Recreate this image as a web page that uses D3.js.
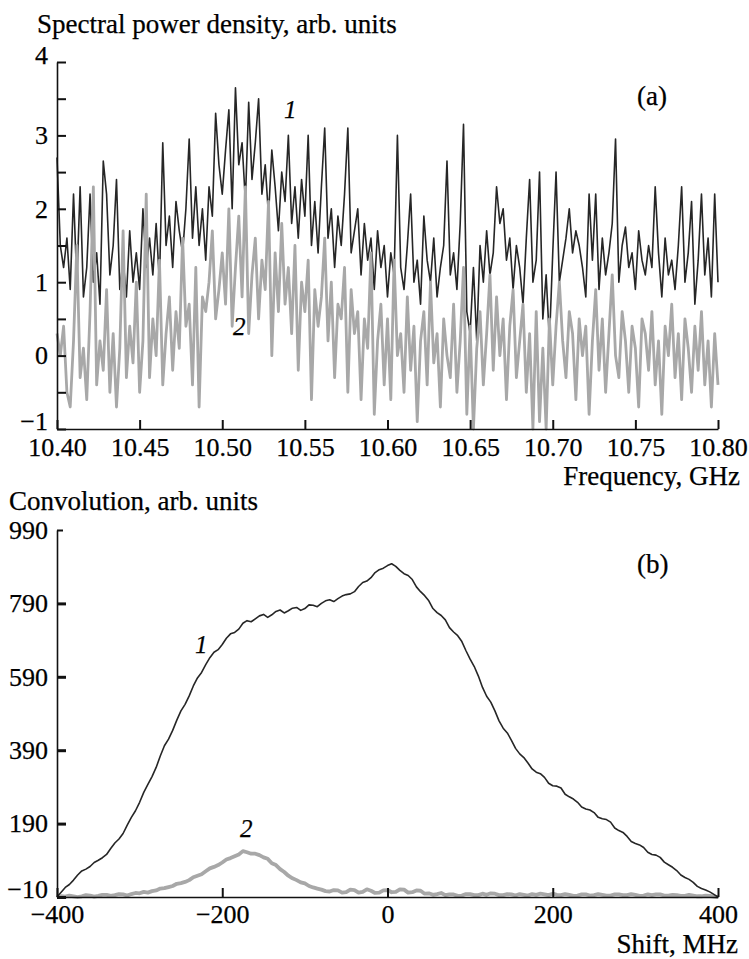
<!DOCTYPE html>
<html>
<head>
<meta charset="utf-8">
<script src="https://cdn.jsdelivr.net/npm/d3@7"></script>
<style>
body { margin: 0; background: #fff; }
text { font-family: "Liberation Serif", "Times New Roman", serif; fill: #000; stroke: #000; stroke-width: 0.25px; }
</style>
</head>
<body>
<div class="container"></div>
<script>
const WIDTH = 749;
const HEIGHT = 959;

// (a) spectra, one value every 2 MHz from 10.400 GHz
const FREQ_START = 10.40;
const FREQ_STEP = 0.002;
var spectrum1 = [
    2.7, 1.5, 1.2, 1.6, 0.9, 2.2, 1.0, 2.3, 0.8, 1.2,
    2.2, 1.0, 1.4, 0.7, 2.65, 2.2, 1.1, 1.5, 2.4, 0.9,
    1.3, 0.8, 1.7, 1.0, 1.4, 0.9, 2.0, 1.2, 1.6, 1.1,
    1.8, 1.0, 2.9, 1.5, 1.9, 1.2, 2.1, 1.7, 1.4, 2.0,
    2.95, 1.6, 2.3, 1.5, 2.0, 1.3, 2.3, 1.9, 3.3, 2.6,
    2.2, 2.8, 3.35, 2.0, 3.65, 2.6, 2.9, 2.1, 3.45, 2.4,
    2.9, 3.5, 2.2, 2.6, 1.9, 2.8, 2.3, 1.7, 2.5, 2.1,
    3.0, 1.8, 2.3, 1.6, 2.4, 1.9, 3.0, 1.5, 2.1, 1.4,
    2.3, 3.1, 1.6, 2.0, 1.2, 1.9, 1.5, 2.2, 3.1, 1.4,
    1.7, 2.0, 1.1, 1.8, 1.3, 1.6, 0.9, 1.7, 1.2, 1.5,
    0.8, 1.4, 1.1, 3.0, 1.2, 0.9, 1.5, 2.2, 1.0, 1.3,
    0.7, 1.9, 1.3, 1.0, 1.6, 0.8, 1.2, 1.5, 2.65, 1.1,
    1.4, 0.9, 1.8, 3.15, 0.6, 0.3, 1.2, 0.2, 1.5, 1.0,
    1.7, 1.1, 1.4, 2.3, 1.8, 2.0, 1.3, 1.6, 0.9, 1.5,
    1.2, 0.7, 1.6, 2.4, 1.0, 1.3, 2.5, 0.5, 1.1, 0.2,
    1.4, 2.5, 1.0, 1.3, 1.6, 2.0, 1.4, 1.7, 1.5, 1.2,
    0.8, 2.2, 1.3, 2.2, 0.9, 1.6, 1.1, 1.4, 1.8, 2.95,
    1.0, 1.5, 1.75, 1.2, 1.4, 0.9, 1.7, 1.3, 1.1, 1.5,
    1.2, 2.3, 1.4, 0.8, 1.6, 1.1, 1.3, 0.9, 1.5, 2.3,
    1.0, 1.4, 2.1, 0.7, 1.3, 2.2, 1.1, 1.6, 0.8, 2.2,
    1.0
];
var spectrum2 = [
    0.3, 0.0, 0.4, -0.5, -0.7, 0.2, 1.5, -0.3, 0.1, -0.6,
    0.6, 2.3, -0.4, 0.2, -0.2, 0.9, -0.5, 0.3, -0.7, 0.1,
    1.7, -0.3, 0.4, -0.1, 1.0, -0.5, 0.2, 2.2, -0.3, 0.5,
    0.0, 1.3, -0.4, 0.3, 0.8, -0.2, 0.6, 0.1, 1.6, 0.4,
    0.7, -0.4, 1.2, -0.7, 0.8, 0.6, 1.0, 1.7, 0.5, 0.9,
    1.4, 0.7, 2.0, 0.4, 1.2, 1.9, 0.8, 2.3, 0.3, 1.1,
    1.6, 0.5, 1.3, 0.9, 2.1, 0.0, 1.4, 0.6, 1.8, 0.7,
    1.2, 0.3, 1.5, -0.2, 1.0, 0.6, 1.3, -0.6, 0.9, 0.4,
    0.8, 1.6, 0.2, 1.0, -0.3, 0.7, 0.5, 1.2, -0.5, 0.9,
    0.3, 0.6, -0.6, 0.5, 0.1, 1.4, -0.8, 0.2, 0.7, -0.4,
    0.5, -0.6, 1.3, 0.0, 0.3, -0.5, 0.8, -0.2, 0.4, -0.9,
    0.2, 0.6, -0.4, 1.0, -0.1, 0.3, -0.7, 0.5, 0.0, -0.3,
    0.7, -0.5, 0.2, 1.2, -0.8, 0.4, -1.0, 0.1, 0.6, -0.4,
    0.3, 1.1, -0.2, 0.8, 0.0, 0.5, -0.6, 0.4, 0.9, -0.3,
    0.2, 0.7, -0.5, 0.3, -1.0, 0.6, -0.9, 0.1, -1.0, 0.5,
    -0.4, 0.4, 1.0, 0.2, -0.3, 0.6, 0.3, -0.6, 0.5, 0.0,
    0.4, -0.8, 0.2, 0.9, -0.2, 0.5, -0.5, 0.3, 1.1, 0.0,
    -0.3, 0.6, 0.2, -0.5, 0.4, 0.1, -0.7, 0.5, 0.3, -0.2,
    0.6, -0.4, 0.2, -0.8, 0.4, 0.0, 0.7, -0.3, 0.3, -0.6,
    0.5, 0.1, -0.5, 0.4, -0.2, 0.6, -0.4, 0.2, -0.7, 0.3,
    -0.4
];

// (b) convolutions, one value every 5 MHz from -400 MHz
const SHIFT_START = -400;
const SHIFT_STEP = 5;
var conv1 = [
    -10, 3, 16, 24, 36, 50, 61, 66, 73, 84,
    90, 97, 106, 122, 137, 148, 163, 186, 207, 225,
    248, 275, 297, 318, 343, 374, 402, 420, 444, 472,
    497, 515, 538, 565, 587, 602, 623, 642, 657, 664,
    678, 695, 707, 711, 720, 736, 743, 740, 748, 756,
    760, 752, 759, 768, 772, 764, 770, 777, 779, 771,
    776, 786, 785, 781, 790, 797, 800, 795, 803, 810,
    814, 816, 822, 836, 847, 851, 860, 874, 882, 886,
    893, 898, 891, 880, 871, 866, 855, 835, 822, 811,
    797, 776, 765, 757, 745, 724, 712, 702, 686, 661,
    638, 618, 592, 561, 537, 521, 497, 470, 450, 437,
    417, 395, 380, 370, 355, 339, 330, 326, 316, 300,
    293, 292, 287, 270, 263, 257, 248, 235, 230, 227,
    220, 207, 203, 201, 194, 178, 171, 166, 155, 141,
    136, 132, 125, 112, 106, 104, 98, 85, 78, 71,
    62, 50, 43, 38, 30, 19, 13, 9, 4, -3,
    -10
];
var conv2 = [
    -10, -8, -9, -6, -8, -10, -8, -5, -6, -9,
    -7, -4, -4, -7, -5, -2, -3, -6, -2, 1,
    0, 4, 2, 6, 8, 13, 14, 17, 20, 26,
    28, 31, 36, 44, 48, 52, 60, 68, 72, 77,
    84, 92, 96, 101, 106, 115, 112, 108, 108, 104,
    98, 94, 82, 77, 66, 58, 48, 41, 36, 30,
    27, 20, 16, 13, 10, 6, 5, 9, 8, 2,
    3, 10, 9, 2, 4, 11, 7, 1, 2, 8,
    9, 3, 4, 11, 10, 2, 3, 8, 7, -1,
    0, -4, -2, 1, -5, -3, -3, -7, -6, -2,
    -2, -5, -5, -1, -4, 0, -1, -5, -5, -2,
    -3, -6, -2, -4, -6, -2, -4, -1, -3, -5,
    -1, -4, -5, -2, -4, -7, -6, -3, -3, -6,
    -5, -2, -4, -6, -6, -3, -3, -5, -5, -2,
    -4, -7, -6, -3, -5, -3, -3, -6, -6, -4,
    -5, -7, -7, -4, -6, -8, -8, -6, -7, -9,
    -10
];

// ticks
var freqTicks = [10.40, 10.45, 10.50, 10.55, 10.60, 10.65, 10.70, 10.75, 10.80];
var powerTicks = [-1, -0.5, 0, 0.5, 1, 1.5, 2, 2.5, 3, 3.5, 4];
var shiftTicks = [-400, -200, 0, 200, 400];
var convTicks = [-10, 190, 390, 590, 790, 990];

var minus = function(d){ return d < 0 ? "\u2212" + Math.abs(d) : String(d); };

var drawAxes = function(svg, x, y, xTicks, yTicks, xFmt, yFmt, pad){
    var gx = svg.append("g")
        .attr("transform", "translate(0," + y.range()[0] + ")")
        .call(d3.axisBottom(x).tickValues(xTicks).tickFormat(xFmt)
            .tickSize(-9).tickSizeOuter(0).tickPadding(pad));
    var gy = svg.append("g")
        .attr("transform", "translate(" + x.range()[0] + ",0)")
        .call(d3.axisLeft(y).tickValues(yTicks).tickFormat(yFmt)
            .tickSize(-9).tickSizeOuter(0).tickPadding(9));
    [gx, gy].forEach(function(g){
        g.select(".domain").attr("stroke", "#111").attr("stroke-width", 1.6);
        g.selectAll(".tick line").attr("stroke", "#111").attr("stroke-width", 2);
        g.selectAll(".tick text")
            .style("font-family", '"Liberation Serif", serif')
            .style("font-size", "26px")
            .attr("fill", "#000");
    });
    return {gx: gx, gy: gy};
};

var addText = function(svg, x, y, s, anchor, italic, size){
    svg.append("text")
        .attr("x", x).attr("y", y)
        .attr("text-anchor", anchor || "start")
        .style("font-size", (size || 27) + "px")
        .style("font-style", italic ? "italic" : "normal")
        .text(s);
};

var drawPanelA = function(svg){
    var x = d3.scaleLinear().domain([10.40, 10.80]).range([57, 718]);
    var y = d3.scaleLinear().domain([-1, 4]).range([429, 62]);

    var line = d3.line()
        .x(function(d, i){ return x(FREQ_START + i * FREQ_STEP); })
        .y(function(d){ return y(d); });

    svg.append("path").datum(spectrum1)
        .attr("d", line).attr("fill", "none")
        .attr("stroke", "#262626").attr("stroke-width", 1.6)
        .attr("stroke-linejoin", "round");
    svg.append("path").datum(spectrum2)
        .attr("d", line).attr("fill", "none")
        .attr("stroke", "#a8a8a8").attr("stroke-width", 2.8)
        .attr("stroke-linejoin", "round");

    var ax = drawAxes(svg, x, y, freqTicks, powerTicks,
        d3.format(".2f"),
        function(d){ return Number.isInteger(d) ? minus(d) : ""; }, 9);
    ax.gy.selectAll(".tick").filter(function(d){ return d === 4; })
        .select("text").attr("y", -7);
    ax.gy.selectAll(".tick").filter(function(d){ return d === -1; })
        .select("text").attr("y", -8);

    addText(svg, 37, 33, "Spectral power density, arb. units");
    addText(svg, 740, 485, "Frequency, GHz", "end");
    addText(svg, 637, 105, "(a)");
    addText(svg, 284, 118, "1", "start", true, 25);
    addText(svg, 233, 335, "2", "start", true, 25);
};

var drawPanelB = function(svg){
    var x = d3.scaleLinear().domain([-400, 400]).range([57, 718]);
    var y = d3.scaleLinear().domain([-10, 990]).range([897, 530]);

    var line = d3.line()
        .x(function(d, i){ return x(SHIFT_START + i * SHIFT_STEP); })
        .y(function(d){ return y(d); });

    svg.append("path").datum(conv2)
        .attr("d", line).attr("fill", "none")
        .attr("stroke", "#a8a8a8").attr("stroke-width", 3.8)
        .attr("stroke-linejoin", "round");
    svg.append("path").datum(conv1)
        .attr("d", line).attr("fill", "none")
        .attr("stroke", "#262626").attr("stroke-width", 1.6)
        .attr("stroke-linejoin", "round");

    var ax = drawAxes(svg, x, y, shiftTicks, convTicks, minus, minus, 8);
    ax.gy.selectAll(".tick line").attr("stroke-width", 3);
    ax.gy.selectAll(".tick").filter(function(d){ return d === 990; })
        .select("line").attr("x2", 6).attr("stroke-width", 2);
    ax.gy.selectAll(".tick").filter(function(d){ return d === -10; })
        .select("text").attr("y", -8);

    addText(svg, 9, 510, "Convolution, arb. units");
    addText(svg, 738, 953, "Shift, MHz", "end");
    addText(svg, 637, 573, "(b)");
    addText(svg, 195, 653, "1", "start", true, 25);
    addText(svg, 240, 837, "2", "start", true, 25);
};

var load = function(){
    var svg = d3.select(".container")
        .append("svg")
        .attr("width", WIDTH)
        .attr("height", HEIGHT);

    drawPanelA(svg);
    drawPanelB(svg);
};

window.onload = load;
</script>
</body>
</html>
